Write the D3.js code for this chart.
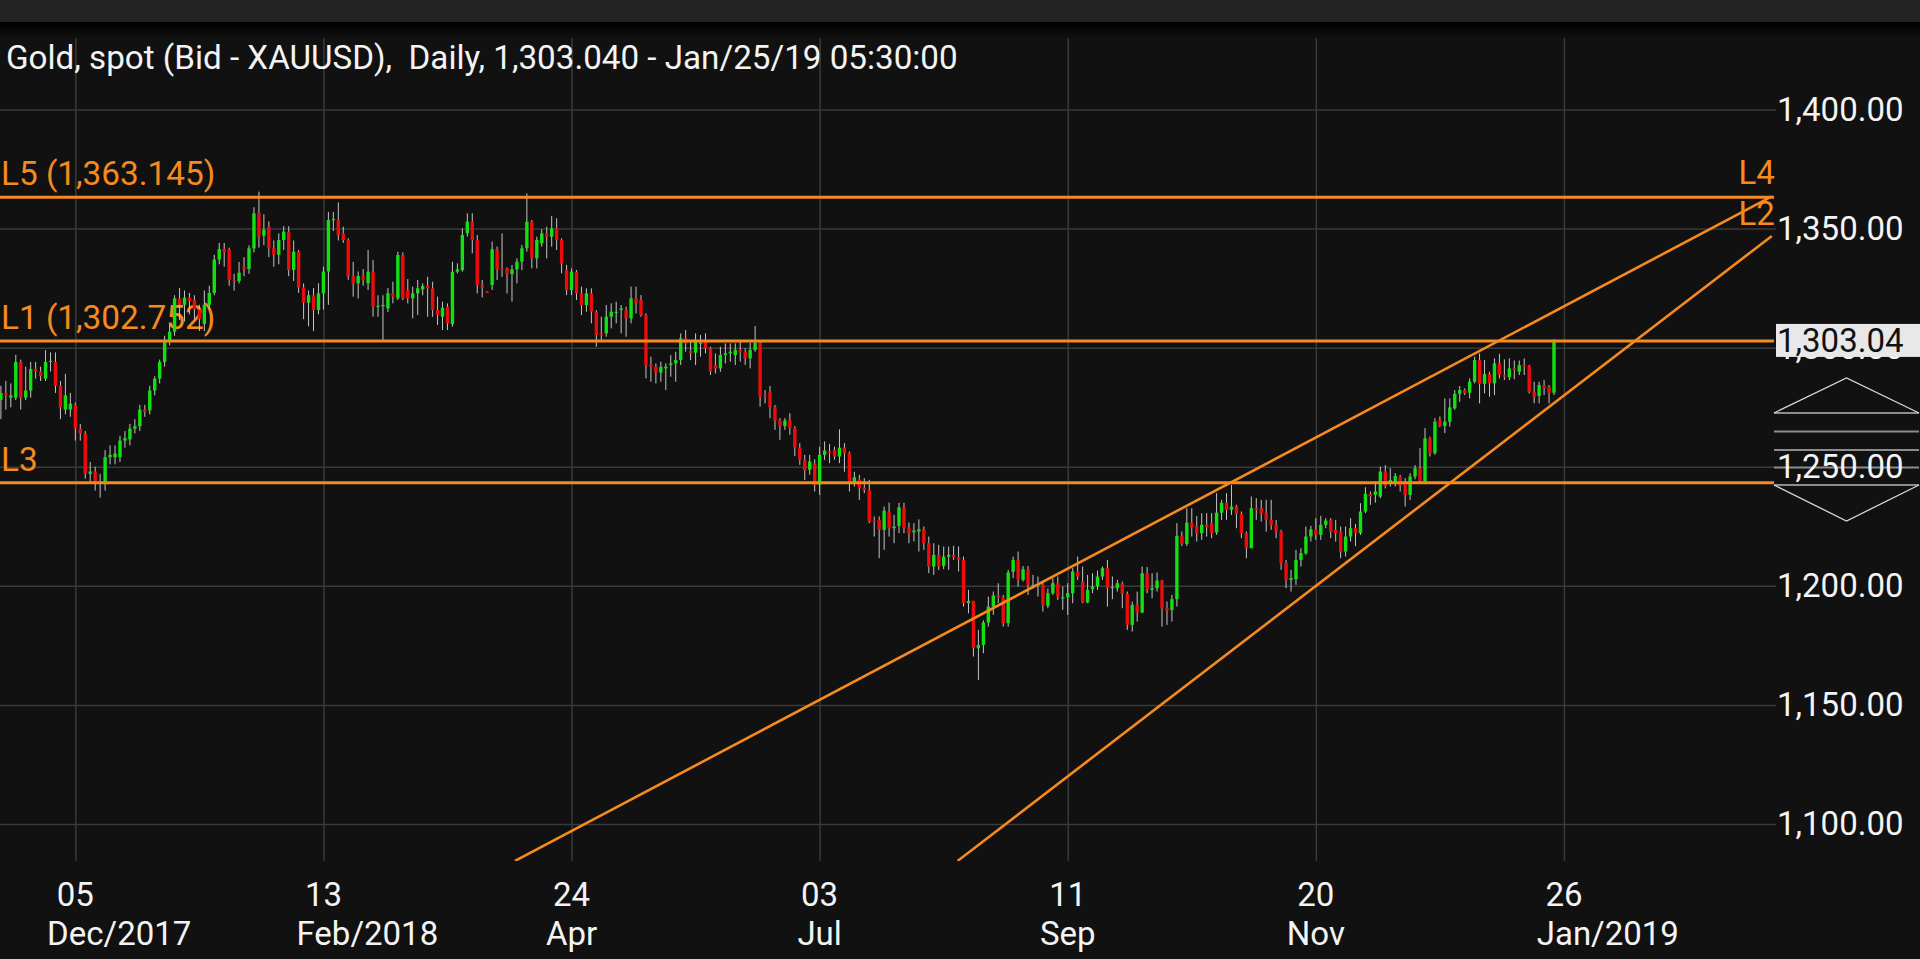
<!DOCTYPE html>
<html>
<head>
<meta charset="utf-8">
<script src="https://cdn.jsdelivr.net/npm/d3@7"></script>
<style>
  html, body { margin: 0; padding: 0; background: #111111; overflow: hidden; }
  svg { display: block; }
  text { font-family: Roboto, "Noto Sans", sans-serif; }
</style>
</head>
<body>
<svg id="chart" width="1920" height="959"></svg>
<script>
// ---------------- DATA ----------------
const titleText = "Gold, spot (Bid - XAUUSD),  Daily, 1,303.040 - Jan/25/19 05:30:00";

// daily candles, bar index 0 = Nov 14 2017 ... 313 = Jan 25 2019
const open = [
1278,1281,1279,1279,1294,1279,1282,1291,1290,1287,1294,1294,1284,1274,1274,
1276,1266,1264,1247,1248,1244,1244,1254,1254,1254,1261,1261.5,1266,1267,1274,
1273.6,1282,1287,1294,1302.5,1306.7,1320.7,1318,1321,1320,1316,1310,1318,1323,1337,
1341.5,1341,1328.4,1328,1334,1333,1341.7,1356.4,1347,1350.8,1341.7,1339,1345.2,1348.7,1332.6,
1340.3,1325.3,1318.9,1322,1315.8,1322.8,1332,1353.6,1353.6,1348,1345.2,1330,1327,1330.1,1327,
1331.9,1317.2,1317.5,1316.5,1322.8,1320.7,1338.9,1324.2,1320.7,1322.8,1324.5,1325.9,1324.9,1315.8,1313,
1317.2,1309.9,1331.9,1332.6,1348,1352.9,1345.2,1326.3,1323.5,1326.3,1341.3,1333.3,1333.3,1330.9,1332.9,
1336.1,1341.7,1352.9,1337.5,1343.8,1348,1346.6,1350.1,1345.2,1332.6,1324.2,1331.9,1322.8,1317.9,1322.8,
1315.1,1306,1306,1313,1314.8,1315.8,1315.8,1312.3,1320.7,1320,1313.7,1293,1292,1289.5,1291.3,
1292.7,1293.4,1294.8,1303.9,1298.6,1297.9,1301.6,1302.5,1299.7,1292.7,1291.3,1296.9,1297.6,1296.9,1299,
1298.3,1295.5,1299,1302.1,1280,1281.5,1275,1269.4,1267.1,1269.6,1266.2,1258,1252.9,1248.7,1251.5,
1242.4,1255,1256.4,1257.1,1254.3,1258,1255.7,1243.3,1244.7,1241.2,1240.2,1227.5,1227.7,1223.5,1231.2,
1224.2,1225.2,1233,1224.2,1222.5,1222.8,1223.7,1217.9,1208.1,1213,1208.4,1212.3,1213,1212,1210.9,
1192.7,1193.7,1173.8,1175.2,1184.6,1191.3,1195.9,1195.1,1184.3,1205.9,1210.9,1202.5,1206.9,1199.9,1200.4,
1200.4,1191.6,1196.9,1201.1,1194.8,1195.2,1196.9,1206,1201.8,1193,1198.6,1199.7,1203.9,1207.4,1199,
1199,1201.1,1196.6,1183.6,1192,1188.8,1205.3,1198.3,1199,1202.2,1190.6,1189.9,1194.4,1221,1217.6,
1226.5,1224.9,1222.1,1225.6,1226.3,1222.4,1230.7,1234.9,1231.9,1233.3,1230.2,1222.1,1215.8,1232.6,1232.6,
1230.7,1227.7,1225.6,1222.8,1209.5,1202.5,1202.8,1210.9,1213.7,1220.7,1223.7,1221.4,1225.6,1227.7,1223.5,
1222.8,1214.4,1220.7,1224.2,1222.1,1231.2,1238.6,1238.2,1237.5,1248,1243.1,1243.8,1245.9,1243.8,1238.2,
1245.9,1249.4,1243.8,1261.9,1255.7,1269.6,1267.1,1268.9,1274.5,1280.6,1282.2,1281.1,1285.7,1294.8,1284.8,
1289,1285,1293.4,1288.5,1287.6,1291.3,1289.9,1292.7,1292.3,1281.5,1279.7,1284.3,1283.6,1281.1
];
const high = [
1284,1286,1285,1297,1295,1292,1294,1294,1292,1299,1298,1298,1286,1289,1281,
1277,1268,1265,1252,1250,1247,1257,1259,1259,1263,1265,1268,1270,1276,1276,
1284,1288,1295,1305,1310,1322,1325,1324,1323,1322,1318,1324,1326,1339,1344,
1344,1342,1331,1336,1338,1343,1359,1365.5,1356,1353,1345,1348,1351,1351,1345,
1341,1327,1324,1325,1327,1334,1357,1357,1361,1350.8,1346,1336,1332,1333,1341,
1336.8,1322,1322,1325,1327.7,1340.3,1340,1328.8,1325.6,1328.4,1327,1329.8,1327.7,1321.4,1319.3,
1318.6,1336.1,1335.4,1350.1,1356.4,1356.4,1347.3,1328.4,1323.6,1344.5,1342.4,1348,1333.7,1334.7,1337.5,
1343.1,1364.8,1353.6,1346.6,1349.7,1350.8,1355.3,1354.3,1345.9,1334.7,1333.3,1332.6,1325.6,1324.9,1324.9,
1315.8,1313,1317.9,1318.6,1319.3,1317.9,1317.2,1325.6,1325.6,1322.1,1314.4,1296.2,1293.4,1294.1,1293.4,
1296.9,1298.3,1306,1307.4,1303.2,1306,1305.3,1306,1300.4,1297.6,1300.4,1301.8,1301.8,1301.8,1302.5,
1299.7,1302.1,1309.1,1302.5,1282.2,1283.9,1275.9,1270.4,1270.4,1272.5,1267.1,1259.9,1255,1255,1253.1,
1258.4,1260.6,1259.6,1258.4,1265.7,1259.9,1256.4,1247.9,1246.6,1245.2,1244.5,1229.1,1229.1,1233.3,1234.9,
1229.8,1234.9,1234.9,1226.6,1226.3,1227.9,1224.9,1220.7,1217.9,1217.2,1216.5,1216.5,1216.8,1216.5,1212.3,
1198.3,1193.7,1181.5,1185.5,1195.5,1197.6,1201.1,1196.2,1206.7,1212.3,1214.4,1208.3,1208.3,1204.6,1203.9,
1201.1,1198.9,1203.2,1203.9,1199.7,1201.1,1207.4,1212.3,1208.1,1204.6,1205.3,1206.4,1208.1,1210.9,1203.9,
1202.5,1201.8,1197.6,1193.4,1197.6,1208.1,1207.9,1205.3,1205.6,1202.5,1193.4,1196.2,1226.3,1222.8,1232.6,
1232.6,1229.3,1230.5,1230.5,1230.5,1238.9,1236.1,1238.9,1242.4,1234,1231.2,1222.8,1237.5,1236.8,1236.1,
1236.1,1236.1,1227.7,1223.5,1210.9,1206.7,1215.1,1215.8,1224.9,1225.2,1228.4,1229.4,1228.4,1228.4,1227.7,
1224.9,1224.9,1228.4,1226,1234.7,1241.4,1239.6,1243.8,1250.1,1250.7,1249.4,1247.3,1246.6,1245.2,1247.3,
1250.7,1257.8,1266.2,1262.6,1270.4,1271.1,1278.7,1278.7,1282.2,1283.9,1282.9,1287.1,1296.2,1297.6,1294.8,
1289.9,1295.5,1297.4,1295.1,1295.5,1294.6,1294.6,1295.5,1292.7,1285.7,1285.7,1286.4,1284.3,1303.6
];
const low = [
1270,1274,1275,1278,1274,1278,1279,1287,1286,1286,1290,1281,1270,1272,1271,
1261,1261,1245,1243,1240,1237,1240,1251,1251,1252,1258,1259,1264,1265,1271,
1272,1280,1285,1292,1301,1305,1311.6,1311,1314,1312,1307,1307,1316,1322,1335,
1334,1326,1324,1327,1330,1331,1340,1342,1343,1338,1334,1335,1341,1330,1328,
1323,1312,1309,1307,1314,1316,1318,1349,1345,1344,1328.5,1321.4,1320.7,1326,1324.2,
1313,1313,1303.2,1315,1318.6,1320,1320,1318.6,1312.3,1313.7,1322,1313,1313,1309.5,1307.4,
1307.4,1308.8,1331.2,1331.9,1346.6,1339.6,1322.8,1321.1,1323,1324.2,1328.4,1329.8,1322.8,1319.3,1327,
1332.6,1340.3,1333.3,1333.3,1342.4,1337.5,1342.4,1341,1331.2,1322.1,1322.1,1320,1313.7,1315.1,1310.2,
1300.4,1302.5,1304.6,1308.1,1310.2,1306,1304.6,1310.2,1314.4,1313,1287.1,1285.7,1285,1285.7,1282.2,
1287.8,1285.7,1292.7,1298.3,1294.8,1292.7,1296.2,1297.6,1288.5,1289.2,1289.9,1293.4,1294.1,1292.7,1294.1,
1292.7,1291.3,1298.3,1275.2,1276.6,1270.4,1265.5,1261.3,1265.5,1263.4,1254.5,1250.8,1244.5,1246.6,1239.6,
1238.2,1252.9,1251.5,1253,1251.5,1247.9,1239.6,1241.7,1236.1,1238.9,1226.3,1220.7,1211.6,1215.1,1220.7,
1217.9,1222.1,1222.1,1217.9,1218.6,1214.4,1215.1,1205.3,1204.6,1206.7,1207,1206.7,1210.9,1206,1191.3,
1188.5,1170.3,1160.5,1171.7,1182.9,1187.8,1192.7,1182.9,1182.9,1203.2,1199.7,1201.8,1196.2,1199,1195.5,
1189.2,1190.6,1196.2,1194.1,1189.9,1187.8,1192.7,1202.5,1192.7,1192.7,1196.9,1198.3,1202.5,1191.3,1194.4,
1197.6,1190.6,1181.5,1180.8,1185,1188.5,1196.9,1194.8,1197.6,1182.9,1183.6,1185,1191.3,1216.7,1216.7,
1220.7,1218.6,1219.3,1220.7,1220,1221.4,1227.7,1227.7,1229.8,1224.2,1220,1211.6,1215.8,1227.7,1227,
1222.8,1223.5,1220,1206.7,1199,1197.6,1200.4,1208.1,1213,1218.6,1219.3,1219.3,1224.2,1220,1218.6,
1211.6,1212.3,1218.6,1216.7,1221.4,1230.5,1234,1234.9,1236.8,1240.9,1241.7,1241.7,1239.6,1233.3,1236.1,
1244.7,1243.1,1243.1,1254.3,1255,1266.6,1264.1,1266.9,1273.9,1277.3,1280.1,1278.7,1285,1276.6,1280.8,
1279.4,1280.1,1287.1,1286.4,1286.4,1286.7,1288.5,1288.5,1280.8,1276.6,1276.6,1280.1,1276.6,1280.1
];
const close = [
1281,1280,1280,1294,1279,1282,1291,1290,1288,1294,1294.5,1284,1275,1280,1276.5,
1266,1264,1247,1248,1244,1243,1254,1255,1255.5,1261,1262,1266,1267,1274,1273,
1282,1287,1294,1302.5,1306.7,1320.7,1318,1321,1319.5,1316,1312,1318,1323,1337,1341.4,
1340,1328.4,1328,1331.5,1333,1341.7,1356.4,1346.6,1349.5,1341.7,1339,1345.2,1348.7,1332.6,1340.3,
1325.3,1318.9,1322,1315.8,1322.8,1331.9,1353.6,1354,1347.3,1345.2,1330,1327,1330.1,1328.4,1331.9,
1317.2,1317.6,1317.9,1322.8,1321.4,1338.9,1320.7,1320.7,1322.8,1324.9,1325.9,1324.9,1315.8,1313.7,1316.8,
1310.2,1331.9,1332.9,1347.3,1352.9,1345.2,1326.3,1325.3,1323.2,1341.3,1332.9,1332.9,1330.9,1332.9,1336.1,
1341.7,1352.9,1337.5,1345.2,1348,1346.6,1350.1,1345.2,1335.4,1324.2,1331.9,1322.8,1317.9,1322.8,1315.1,
1305.3,1305.3,1313,1315.1,1315.1,1316.5,1312.3,1320.7,1318.6,1313.7,1292.7,1292,1289.5,1292,1292,
1293.4,1294.8,1303.9,1301.6,1297.6,1302.5,1302.1,1299.7,1289.9,1291.3,1296.9,1297.6,1298.3,1299,1298.1,
1295.5,1299,1302.1,1279.4,1279.6,1275,1269.4,1267.1,1269.4,1266.2,1258,1252.9,1248.4,1252.2,1242.4,
1255,1256.8,1255.7,1254.3,1258,1255.7,1243.3,1245.6,1240.9,1240.2,1227,1227,1223.5,1231.6,1224.2,
1224.9,1233,1224.2,1222.1,1223.2,1223.7,1217.9,1208.1,1213,1208.1,1212.3,1213,1212,1210.9,1192.7,
1193.7,1173.8,1175.2,1184.6,1191.3,1195.9,1195.1,1184.3,1205.6,1210.9,1202.8,1206.9,1200.4,1200.4,1199.9,
1192,1196.9,1201.1,1195.5,1195.2,1196.9,1206,1203.9,1193,1198.3,1199.7,1203.9,1207.4,1199,1199.5,
1201.1,1196.6,1183.6,1192,1188.8,1205.3,1198.3,1199,1202.2,1190.6,1189.6,1194.4,1221,1217.6,1226.5,
1224.6,1222.1,1225.6,1224.6,1222.1,1230.7,1234.9,1231.9,1233.3,1230.2,1222.1,1215.8,1232.6,1231.9,1230.5,
1227.7,1225.6,1222.8,1209.5,1202.5,1203.2,1210.9,1213.7,1220.7,1223.7,1221.4,1225.6,1227.4,1222.8,1222.1,
1214.4,1220.7,1224.2,1222.1,1231.2,1238.6,1237.5,1239.6,1248,1241.9,1244.5,1246.1,1241.9,1238.2,1245.9,
1249.4,1243.8,1261.9,1255.7,1268.9,1267.1,1268.9,1274.9,1280.6,1282.2,1280.8,1285.7,1294.8,1284.8,1289,
1285,1293.4,1288.5,1287.8,1291.3,1290.6,1292.7,1292,1281.5,1279.4,1284.3,1282.9,1281.1,1303.04
];

// axes
const yTicks = [1100, 1150, 1200, 1250, 1300, 1350, 1400];
const xTickIndex = [15, 65, 115, 165, 215, 265, 315];
const xTickDay = ["05", "13", "24", "03", "11", "20", "26"];
const xTickMonth = ["Dec/2017", "Feb/2018", "Apr", "Jul", "Sep", "Nov", "Jan/2019"];

// horizontal level lines
const levelNames = ["L5 (1,363.145)", "L1 (1,302.752)", "L3"];
const levelValues = [1363.145, 1302.752, 1243.3];

// sloped trend lines (bar index, price)
const trendNames = ["L4", "L2"];
const trendStartIdx = [103.6, 192.8];
const trendStartVal = [1084.5, 1084.5];
const trendEndIdx = [356.9, 356.9];
const trendEndVal = [1363.5, 1346.9];

const lastPrice = 1303.04;

// ---------------- DRAWING ----------------
const W = 1920, H = 959;
const plotRight = 1774, plotBottom = 861, plotTop = 36;
const ORANGE = "#f58a1f";
const GREEN = "#13e013";
const RED = "#eb0c0c";

const svg = d3.select("#chart");

const x = d3.scaleLinear().domain([0, 313]).range([0.9, 0.9 + 4.962 * 313]);
const y = d3.scaleLinear().domain([1100, 1400]).range([824, 109.5]);

// background
svg.append("rect").attr("width", W).attr("height", H).attr("fill", "#111111");
const defs = svg.append("defs");
const grad = defs.append("linearGradient").attr("id", "shade").attr("x1", 0).attr("x2", 0).attr("y1", 0).attr("y2", 1);
grad.append("stop").attr("offset", "0%").attr("stop-color", "#000000");
grad.append("stop").attr("offset", "100%").attr("stop-color", "#111111");
defs.append("clipPath").attr("id", "plotClip")
  .append("rect").attr("x", 0).attr("y", 0).attr("width", plotRight).attr("height", plotBottom);

// vertical grid via axis
const xGrid = svg.append("g").attr("transform", `translate(0,${plotBottom})`)
  .call(d3.axisBottom(x).tickValues(xTickIndex).tickSize(-(plotBottom - plotTop)).tickFormat(""));
xGrid.select(".domain").remove();
xGrid.selectAll("line").attr("stroke", "#3a3a3a").attr("stroke-width", 1.5);

// horizontal grid via axis
const yGrid = svg.append("g").attr("transform", `translate(0,0)`)
  .call(d3.axisRight(y).tickValues(yTicks).tickSize(plotRight + 2).tickFormat(""));
yGrid.select(".domain").remove();
yGrid.selectAll("line").attr("stroke", "#3a3a3a").attr("stroke-width", 1.5);

// top bar
svg.append("rect").attr("x", 0).attr("y", 22).attr("width", W).attr("height", 16).attr("fill", "url(#shade)");
svg.append("rect").attr("x", 0).attr("y", 0).attr("width", W).attr("height", 22).attr("fill", "#232323");

// title
svg.append("text").attr("x", 6).attr("y", 69)
  .attr("fill", "#f4f4f4").attr("font-size", 33.2)
  .style("white-space", "pre")
  .text(titleText);

// level labels
svg.append("g").selectAll("text").data(levelNames).join("text")
  .attr("x", 1).attr("y", (d, i) => y(levelValues[i]) - 12)
  .attr("fill", ORANGE).attr("font-size", 33.3)
  .text(d => d);

// candles
const idx = d3.range(close.length);
const candles = svg.append("g");
candles.selectAll("line").data(idx).join("line")
  .attr("x1", i => x(i)).attr("x2", i => x(i))
  .attr("y1", i => y(high[i])).attr("y2", i => y(low[i]))
  .attr("stroke", "#c4c4c4").attr("stroke-width", 1);
candles.selectAll("rect").data(idx).join("rect")
  .attr("x", i => x(i) - 1.7).attr("width", 3.4)
  .attr("y", i => y(Math.max(open[i], close[i])))
  .attr("height", i => Math.max(1.2, Math.abs(y(open[i]) - y(close[i]))))
  .attr("fill", i => close[i] >= open[i] ? GREEN : RED);

// horizontal levels
svg.append("g").selectAll("line").data(levelValues).join("line")
  .attr("x1", 0).attr("x2", plotRight)
  .attr("y1", d => y(d)).attr("y2", d => y(d))
  .attr("stroke", ORANGE).attr("stroke-width", 3);

// trend lines
svg.append("g").attr("clip-path", "url(#plotClip)")
  .selectAll("line").data(trendNames).join("line")
  .attr("x1", (d, i) => x(trendStartIdx[i])).attr("y1", (d, i) => y(trendStartVal[i]))
  .attr("x2", (d, i) => x(trendEndIdx[i])).attr("y2", (d, i) => y(trendEndVal[i]))
  .attr("stroke", ORANGE).attr("stroke-width", 2.6);

svg.append("g").selectAll("text").data(trendNames).join("text")
  .attr("x", (d, i) => x(trendEndIdx[i]) + 3)
  .attr("y", (d, i) => y(trendEndVal[i]) - (i === 0 ? 12 : 11))
  .attr("text-anchor", "end")
  .attr("fill", ORANGE).attr("font-size", 33)
  .text(d => d);

// scroll widget on price axis
const wg = svg.append("g");
const wx0 = 1774, wx1 = 1919, wxc = 1846.5;
const wy = 450; // widget centre (screen position)
[-37, -18.5, 0, 17.5, 35].forEach(off => {
  wg.append("line").attr("x1", wx0).attr("x2", wx1).attr("y1", wy + off).attr("y2", wy + off)
    .attr("stroke", "#8c8c8c").attr("stroke-width", 2);
});
wg.append("path").attr("d", `M${wx0},${wy - 37}L${wxc},${wy - 72}L${wx1},${wy - 37}`)
  .attr("fill", "none").attr("stroke", "#d8d8d8").attr("stroke-width", 1.3);
wg.append("path").attr("d", `M${wx0},${wy + 35}L${wxc},${wy + 71}L${wx1},${wy + 35}`)
  .attr("fill", "none").attr("stroke", "#d8d8d8").attr("stroke-width", 1.3);

// price axis labels
const yAx = svg.append("g").attr("transform", `translate(${plotRight + 1},0)`)
  .call(d3.axisRight(y).tickValues(yTicks).tickSize(0).tickPadding(2).tickFormat(d3.format(",.2f")));
yAx.select(".domain").remove();
yAx.selectAll("text").attr("fill", "#f4f4f4").attr("font-size", 33)
  .attr("font-family", "Roboto, sans-serif");

// last price box (covers the 1,300.00 label, as in the reference)
const lp = svg.append("g");
lp.append("rect").attr("x", 1776).attr("y", y(lastPrice) - 16.5).attr("width", W - 1776).attr("height", 33)
  .attr("fill", "#e8e8e8");
lp.append("text").attr("x", 1777).attr("y", y(lastPrice)).attr("dy", "0.35em")
  .attr("fill", "#111111").attr("font-size", 33).text(d3.format(",.2f")(lastPrice));

// x axis labels
const xl = svg.append("g");
xl.selectAll("text.day").data(xTickIndex).join("text").attr("class", "day")
  .attr("x", d => x(d)).attr("y", 906).attr("text-anchor", "middle")
  .attr("fill", "#f4f4f4").attr("font-size", 33)
  .text((d, i) => xTickDay[i]);
const measure = svg.append("text").attr("font-size", 33).attr("visibility", "hidden");
xl.selectAll("text.mon").data(xTickIndex).join("text").attr("class", "mon")
  .attr("x", (d, i) => {
    const name = xTickMonth[i].split("/")[0];
    measure.text(name);
    return x(d) - measure.node().getComputedTextLength() / 2;
  })
  .attr("y", 945)
  .attr("fill", "#f4f4f4").attr("font-size", 33)
  .text((d, i) => xTickMonth[i]);
measure.remove();
</script>
</body>
</html>
